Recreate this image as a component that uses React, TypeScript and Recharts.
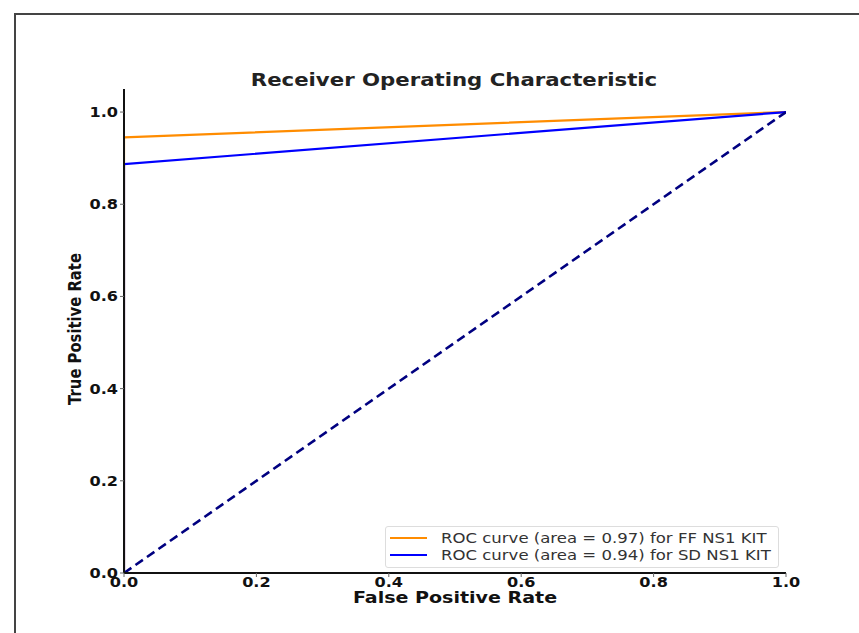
import { Line, LineChart, XAxis, YAxis } from "recharts";

// ROC points
const fprFF = [0, 0, 1];
const tprFF = [0, 0.945, 1];
const fprSD = [0, 0, 1];
const tprSD = [0, 0.887, 1];
const fprChance = [0, 1];
const tprChance = [0, 1];
const rateTicks = [0, 0.2, 0.4, 0.6, 0.8, 1.0];
const legendLabels = [
  "ROC curve (area = 0.97) for FF NS1 KIT",
  "ROC curve (area = 0.94) for SD NS1 KIT",
];
const seriesColors = ["#ff8c00", "#0000ff"];

const toPoints = (xs: number[], ys: number[]) =>
  xs.map((x, i) => ({ x, y: ys[i] }));

const FONT = "'DejaVu Sans', sans-serif";

interface TickProps {
  x?: number;
  y?: number;
  payload?: { value: number };
}

function XTick({ x = 0, y = 0, payload }: TickProps) {
  return (
    <g transform={`translate(${x},${y})`}>
      <text
        dy={8}
        textAnchor="middle"
        transform="scale(1.15,1)"
        fontFamily={FONT}
        fontWeight="bold"
        fontSize={14}
        fill="#111"
      >
        {(payload?.value ?? 0).toFixed(1)}
      </text>
    </g>
  );
}

function YTick({ x = 0, y = 0, payload }: TickProps) {
  return (
    <g transform={`translate(${x},${y})`}>
      <text
        dy={5}
        textAnchor="end"
        transform="scale(1.15,1)"
        fontFamily={FONT}
        fontWeight="bold"
        fontSize={14}
        fill="#111"
      >
        {(payload?.value ?? 0).toFixed(1)}
      </text>
    </g>
  );
}

export default function App() {
  return (
    <div
      style={{
        position: "absolute",
        left: 0,
        top: 0,
        width: 859,
        height: 633,
        overflow: "hidden",
        background: "#fff",
        fontFamily: FONT,
      }}
    >
      {/* outer frame, only top and left edges visible */}
      <div
        style={{
          position: "absolute",
          left: 14,
          top: 13,
          width: 900,
          height: 700,
          borderTop: "2px solid #444",
          borderLeft: "2px solid #444",
        }}
      />
      <LineChart
        width={859}
        height={633}
        margin={{ top: 89, right: 73, bottom: 30, left: 64 }}
        style={{ position: "absolute", left: 0, top: 0 }}
      >
        <XAxis
          type="number"
          dataKey="x"
          domain={[0, 1]}
          ticks={rateTicks}
          height={30}
          tickSize={4}
          tickMargin={2}
          axisLine={{ stroke: "#111", strokeWidth: 2 }}
          tickLine={{ stroke: "#666" }}
          tick={<XTick />}
          allowDataOverflow
        />
        <YAxis
          type="number"
          dataKey="y"
          domain={[0, 1.05]}
          ticks={rateTicks}
          width={60}
          tickSize={4}
          tickMargin={2}
          axisLine={{ stroke: "#111", strokeWidth: 2 }}
          tickLine={{ stroke: "#666" }}
          tick={<YTick />}
          allowDataOverflow
        />
        <Line
          data={toPoints(fprFF, tprFF)}
          dataKey="y"
          type="linear"
          stroke={seriesColors[0]}
          strokeWidth={2.2}
          dot={false}
          isAnimationActive={false}
        />
        <Line
          data={toPoints(fprSD, tprSD)}
          dataKey="y"
          type="linear"
          stroke={seriesColors[1]}
          strokeWidth={2.2}
          dot={false}
          isAnimationActive={false}
        />
        <Line
          data={toPoints(fprChance, tprChance)}
          dataKey="y"
          type="linear"
          stroke="#000080"
          strokeWidth={2.6}
          strokeDasharray="9 5"
          dot={false}
          isAnimationActive={false}
        />
      </LineChart>

      {/* title */}
      <div
        style={{
          position: "absolute",
          left: 454,
          top: 72,
          transform: "translateX(-50%) scaleX(1.25)",
          fontSize: 17,
          lineHeight: "17px",
          fontWeight: "bold",
          color: "#222",
          whiteSpace: "nowrap",
        }}
      >
        Receiver Operating Characteristic
      </div>

      {/* x axis label */}
      <div
        style={{
          position: "absolute",
          left: 455,
          top: 590,
          transform: "translateX(-50%) scaleX(1.19)",
          fontSize: 16,
          lineHeight: "16px",
          fontWeight: "bold",
          color: "#111",
          whiteSpace: "nowrap",
        }}
      >
        False Positive Rate
      </div>

      {/* y axis label */}
      <div
        style={{
          position: "absolute",
          left: 74,
          top: 329,
          transform: "translate(-50%,-50%) rotate(-90deg) scaleY(1.2)",
          fontSize: 14.8,
          lineHeight: "15px",
          fontWeight: "bold",
          color: "#111",
          whiteSpace: "nowrap",
        }}
      >
        True Positive Rate
      </div>

      {/* legend */}
      <div
        style={{
          position: "absolute",
          left: 385,
          top: 526,
          width: 392,
          height: 40,
          border: "1px solid #ddd",
          borderRadius: 3,
          background: "rgba(255,255,255,0.85)",
        }}
      >
        {legendLabels.map((label, i) => (
          <div
            key={label}
            style={{
              position: "absolute",
              left: 4,
              top: 2 + i * 17,
              height: 17,
              display: "flex",
              alignItems: "center",
              whiteSpace: "nowrap",
            }}
          >
            <span
              style={{
                display: "inline-block",
                width: 37,
                height: 2,
                background: seriesColors[i],
                marginRight: 14,
              }}
            />
            <span
              style={{
                fontSize: 14,
                color: "#333",
                transform: "scaleX(1.18)",
                transformOrigin: "left center",
              }}
            >
              {label}
            </span>
          </div>
        ))}
      </div>
    </div>
  );
}
